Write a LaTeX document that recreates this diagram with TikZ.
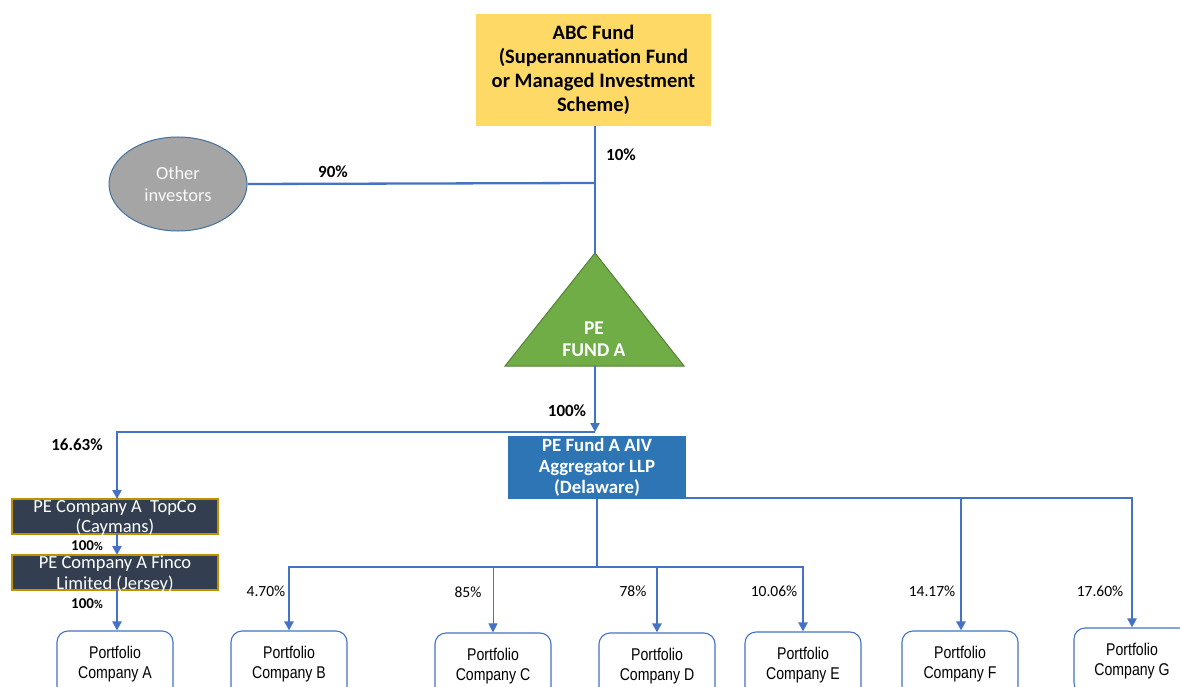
\documentclass[tikz,border=0pt]{standalone}
\usepackage{fontspec}
\setmainfont{Carlito}
\newfontfamily\arialn[FakeStretch=0.83]{Liberation Sans}
\usetikzlibrary{arrows.meta,shapes.geometric}
\definecolor{lineblue}{HTML}{4472C4}
\definecolor{abcyellow}{HTML}{FFD966}
\definecolor{othergray}{HTML}{A5A5A5}
\definecolor{otherborder}{HTML}{41719C}
\definecolor{pegreen}{HTML}{70AD47}
\definecolor{pegreenb}{HTML}{548235}
\definecolor{aivblue}{HTML}{2E75B6}
\definecolor{darkbox}{HTML}{333F50}
\definecolor{goldb}{HTML}{BF9000}
\tikzset{
  conn/.style={draw=lineblue, line width=2.3pt},
  thinconn/.style={draw=lineblue, line width=0.8pt},
  tip/.style={-{Triangle[length=9pt,width=9pt]}},
  portbox/.style={draw=lineblue, line width=1.1pt, fill=white, rounded corners=11pt,
    minimum width=116pt, minimum height=66pt, inner sep=0pt, align=center,
    font=\arialn\fontsize{17}{20}\selectfont},
  darkrect/.style={fill=darkbox, draw=goldb, line width=1.5pt, minimum width=206pt,
    minimum height=35pt, inner sep=0pt},
  darktext/.style={text=white, align=center, inner sep=0pt, font=\fontsize{18.5}{20.5}\selectfont},
  boldlbl/.style={font=\bfseries\fontsize{17}{18}\selectfont, inner sep=0pt},
  lbl/.style={font=\fontsize{15.5}{17}\selectfont, inner sep=0pt},
  smalllbl/.style={font=\bfseries\fontsize{15}{16}\selectfont, inner sep=0pt},
}
\begin{document}
\begin{tikzpicture}[x=1pt,y=-1pt]
\useasboundingbox (0,0) rectangle (1180,687);
\clip (0,0) rectangle (1180,687);
\fill[white] (0,0) rectangle (1180,687);

% ABC Fund
\node[fill=abcyellow, minimum width=235pt, minimum height=112pt, inner sep=0pt, align=center,
  font=\bfseries\fontsize{20.5}{24}\selectfont] (abc) at (593.5,70)
  {ABC Fund\\(Superannuation Fund\\or Managed Investment\\Scheme)};

% Other investors
\node[ellipse, fill=othergray, draw=otherborder, line width=1pt, minimum width=138pt,
  minimum height=94pt, inner sep=0pt, align=center, text=white!95!gray,
  font=\fontsize{18.5}{22}\selectfont] (other) at (178,184) {Other\\investors};

\coordinate (j1) at (595,183);
\coordinate (apex) at (595,253);
\coordinate (bl) at (505,366);
\coordinate (br) at (684,366);
\coordinate (base) at (595,366);

% PE Fund A triangle
\filldraw[fill=pegreen, draw=pegreenb, line width=1pt] (apex) -- (br) -- (bl) -- cycle;
\node[align=center, text=white, font=\bfseries\fontsize{19.5}{22.5}\selectfont] (pefund) at (594,339) {PE\\FUND A};

% connectors top
\draw[conn] (abc.south -| j1) -- (apex);
\draw[conn] (other.east) -- (j1);
\node[boldlbl] (l10) at (621,155) {10\%};
\node[boldlbl] (l90) at (333,172) {90\%};

% AIV
\node[fill=aivblue, minimum width=178pt, minimum height=63pt, inner sep=0pt, align=center,
  text=white, font=\bfseries\fontsize{18.8}{21}\selectfont] (aiv) at (597,467.5)
  {PE Fund A AIV\\Aggregator LLP\\(Delaware)};

\coordinate (j2) at (595,432);
\draw[conn, tip] (base) -- (j2);
\node[boldlbl] (l100) at (567,411) {100\%};

% TopCo and Finco
\node[darkrect] (topco) at (115,516.5) {};
\node[darktext] (topcot) at (115,518) {PE Company A\ \ TopCo\\(Caymans)};
\node[darkrect] (finco) at (115,572.5) {};
\node[darktext] (fincot) at (115,574) {PE Company A Finco\\Limited (Jersey)};

\draw[conn, tip] (j2) -- (117,432) -- (117,499);
\node[boldlbl] (l1663) at (77,445) {16.63\%};
\draw[conn, tip] (117,534) -- (117,555);
\node[smalllbl] (l100a) at (87,546) {100{\fontsize{12}{12}\selectfont\%}};

% Portfolio boxes
\node[portbox] (pa) at (115,664) {Portfolio\\Company A};
\node[portbox] (pb) at (289,664) {Portfolio\\Company B};
\node[portbox] (pc) at (493,666) {Portfolio\\Company C};
\node[portbox] (pd) at (657,666) {Portfolio\\Company D};
\node[portbox] (pe) at (803,665) {Portfolio\\Company E};
\node[portbox] (pf) at (960,664) {Portfolio\\Company F};
\node[portbox] (pg) at (1132,661) {Portfolio\\Company G};

\draw[conn, tip] (117,590) -- (pa.north -| 117,0);
\node[smalllbl] (l100b) at (87,604) {100{\fontsize{12}{12}\selectfont\%}};

% AIV to portfolios
\coordinate (j3) at (597,567);
\draw[conn] (597,499) -- (j3);
\draw[conn, tip] (j3) -- (289,567) -- (pb.north);
\draw[conn, tip] (j3) -- (657,567) -- (pd.north);
\draw[conn, tip] (657,567) -- (803,567) -- (pe.north);
\draw[thinconn, -{Triangle[length=9pt,width=9pt]}] (493,567) -- (pc.north);
\draw[conn, tip] (aiv.east |- 0,498) -- (1132,498) -- (pg.north);
\draw[conn, tip] (961,498) -- (pf.north -| 961,0);

\node[lbl] (l470) at (266,591) {4.70\%};
\node[lbl] (l85) at (468,592) {85\%};
\node[lbl] (l78) at (633,591) {78\%};
\node[lbl] (l1006) at (774,591) {10.06\%};
\node[lbl] (l1417) at (932,591) {14.17\%};
\node[lbl] (l1760) at (1100,591) {17.60\%};
\end{tikzpicture}
\end{document}
